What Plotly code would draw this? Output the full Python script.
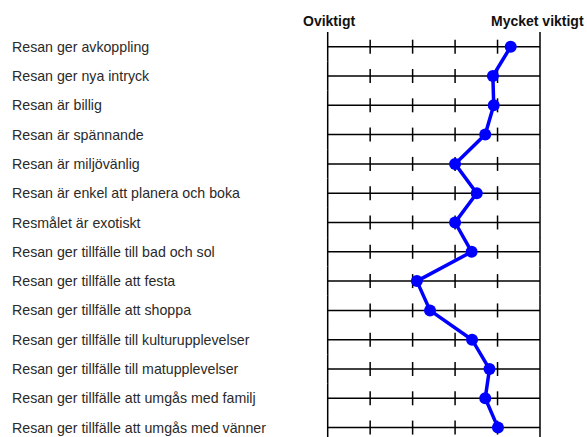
import plotly.graph_objects as go

items = [
    "Resan ger avkoppling",
    "Resan ger nya intryck",
    "Resan är billig",
    "Resan är spännande",
    "Resan är miljövänlig",
    "Resan är enkel att planera och boka",
    "Resmålet är exotiskt",
    "Resan ger tillfälle till bad och sol",
    "Resan ger tillfälle att festa",
    "Resan ger tillfälle att shoppa",
    "Resan ger tillfälle till kulturupplevelser",
    "Resan ger tillfälle till matupplevelser",
    "Resan ger tillfälle att umgås med familj",
    "Resan ger tillfälle att umgås med vänner",
]
values = [5.31, 4.89, 4.91, 4.71, 4.0, 4.51, 4.0, 4.39, 3.10, 3.41, 4.40, 4.81, 4.71, 5.01]
scale_points = [1, 2, 3, 4, 5, 6]
low_label = "Oviktigt"
high_label = "Mycket viktigt"

W, H = 587, 437
x_left_px, step_px = 327.7, 42.46
y_top_px, row_px = 46.7, 29.3

xr = [1 - x_left_px / step_px, 1 + (W - x_left_px) / step_px]
yr = [(H - y_top_px) / row_px, -y_top_px / row_px]

rows = list(range(len(items)))
fig = go.Figure()

# scale lines
lx, ly = [], []
for r in rows:
    lx += [scale_points[0], scale_points[-1], None]
    ly += [r, r, None]
fig.add_trace(go.Scatter(x=lx, y=ly, mode="lines", line=dict(color="black", width=1.5),
                         hoverinfo="skip", showlegend=False))

# ticks
ix, iy, ex, ey = [], [], [], []
for r in rows:
    for p in scale_points:
        if p in (scale_points[0], scale_points[-1]):
            ex.append(p); ey.append(r)
        else:
            ix.append(p); iy.append(r)
fig.add_trace(go.Scatter(x=ix, y=iy, mode="markers",
                         marker=dict(symbol="line-ns", size=10, line=dict(color="black", width=1.5)),
                         hoverinfo="skip", showlegend=False))
fig.add_trace(go.Scatter(x=ex, y=ey, mode="markers",
                         marker=dict(symbol="line-ns", size=21, line=dict(color="black", width=1.5)),
                         hoverinfo="skip", showlegend=False))

# profile line
fig.add_trace(go.Scatter(x=values, y=rows, mode="lines+markers",
                         line=dict(color="#0000FF", width=3.5),
                         marker=dict(color="#0000FF", size=12),
                         showlegend=False))

annotations = []
for r, t in zip(rows, items):
    annotations.append(dict(x=10 / W, xref="paper", y=r, yref="y", text=t, showarrow=False,
                            xanchor="left", yanchor="middle",
                            font=dict(family="Liberation Sans, Arial", size=14.2, color="#2a2a2a")))
annotations.append(dict(x=scale_points[0] + 0.03, y=-0.88, xref="x", yref="y", text="<b>" + low_label + "</b>",
                        showarrow=False, xanchor="center", yanchor="middle",
                        font=dict(family="Liberation Sans, Arial", size=14, color="#111111")))
annotations.append(dict(x=scale_points[-1] - 0.07, y=-0.88, xref="x", yref="y", text="<b>" + high_label + "</b>",
                        showarrow=False, xanchor="center", yanchor="middle",
                        font=dict(family="Liberation Sans, Arial", size=14, color="#111111")))

fig.update_layout(
    width=W, height=H, margin=dict(l=0, r=0, t=0, b=0),
    paper_bgcolor="white", plot_bgcolor="white",
    xaxis=dict(range=xr, visible=False, fixedrange=True),
    yaxis=dict(range=yr, visible=False, fixedrange=True),
    annotations=annotations,
)
fig.write_html("out.html", config={"displayModeBar": False},
               post_script="document.body.style.margin='0';document.body.style.overflow='hidden';")
